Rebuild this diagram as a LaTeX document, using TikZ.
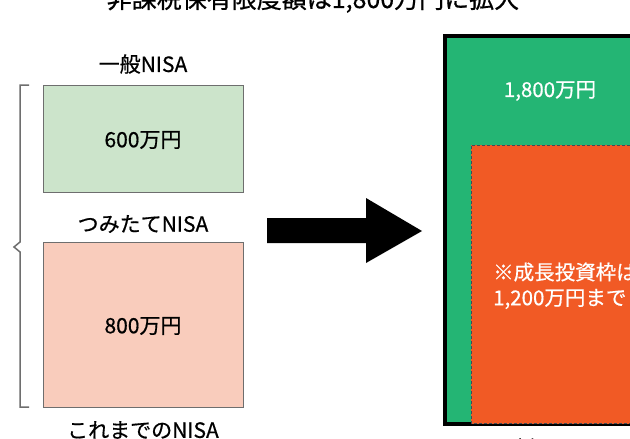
\documentclass[tikz,border=0pt]{standalone}
\usepackage{fontspec}
\setmainfont{Noto Sans CJK JP}
\newfontfamily\jpfont[FakeBold=0.6]{Noto Sans CJK JP}
\definecolor{oldgreen}{HTML}{CCE4CB}
\definecolor{oldpink}{HTML}{F9CCBC}
\definecolor{boxgray}{HTML}{6E6E6E}
\definecolor{newgreen}{HTML}{24B574}
\definecolor{neworange}{HTML}{F15A25}
\definecolor{dashcol}{HTML}{3E4E58}
\tikzset{
  oldbox/.style={draw=boxgray, line width=1pt},
  lbl/.style={font=\jpfont\fontsize{21}{24}\selectfont, inner sep=0pt, anchor=center},
  wlbl/.style={font=\jpfont\fontsize{20.5}{24}\selectfont, text=white, inner sep=0pt},
}
\begin{document}
\begin{tikzpicture}[x=1pt,y=-1pt]
\useasboundingbox (0,0) rectangle (630,439);
\clip (0,0) rectangle (630,439);
\fill[white] (0,0) rectangle (630,439);
% title (cut at top)
\node[font=\jpfont\fontsize{25}{28}\selectfont, inner sep=0pt, anchor=base] (title) at (313,8) {非課税保有限度額は1,800万円に拡大};
% old NISA boxes
\node[lbl] (ippan) at (143,64) {一般NISA};
\draw[oldbox, fill=oldgreen] (43,85) rectangle (243,192);
\node[lbl] (g600) at (143,140) {600万円};
\node[lbl] (tsumi) at (143,224) {つみたてNISA};
\draw[oldbox, fill=oldpink] (43,242) rectangle (243,407);
\node[lbl] (p800) at (143,326) {800万円};
\node[lbl] (kore) at (143,430) {これまでのNISA};
% brace
\draw[boxgray, line width=1.5pt, line join=miter] (29,85) -- (20,85) -- (20,242) -- (14,247) -- (20,252) -- (20,407) -- (29,407);
% big arrow
\fill[black] (267,218) -- (366,218) -- (366,198) -- (422,231) -- (366,263) -- (366,243) -- (267,243) -- cycle;
% new NISA box
\fill[newgreen] (445,36) rectangle (700,424);
\draw[black, line width=4pt] (700,36) -- (445,36) -- (445,424) -- (700,424);
\node[wlbl] (g1800) at (550,91) {1,800万円};
\fill[neworange] (471,145) rectangle (700,424);
\draw[dashcol, line width=0.8pt, dash pattern=on 3pt off 2pt] (700,145) -- (471,145) -- (471,423.5) -- (700,423.5);
\node[wlbl, anchor=west] (seicho1) at (493,272) {※成長投資枠は};
\node[wlbl, anchor=west] (seicho2) at (493,299) {1,200万円まで};
\node[lbl] (shin) at (548,448) {新NISA};
\end{tikzpicture}
\end{document}
